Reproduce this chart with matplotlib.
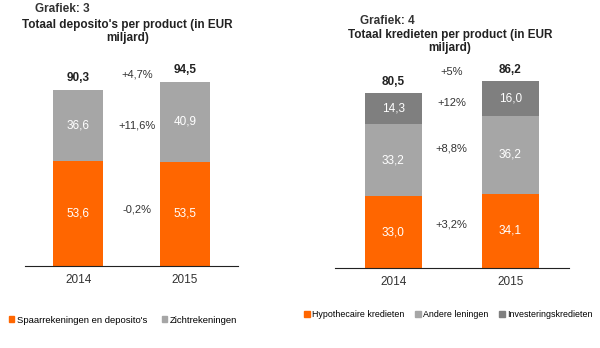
import matplotlib.pyplot as plt
from matplotlib.patches import Patch

plt.rcParams["font.family"] = ["Liberation Sans", "DejaVu Sans"]

years = ["2014", "2015"]

# Grafiek 3 - deposito's
dep_spaar = [53.6, 53.5]
dep_zicht = [36.6, 40.9]
dep_total = [90.3, 94.5]
dep_growth = ["+4,7%", "+11,6%", "-0,2%"]
dep_growth_y = [98, 72, 29]

# Grafiek 4 - kredieten
kr_hypo = [33.0, 34.1]
kr_andere = [33.2, 36.2]
kr_invest = [14.3, 16.0]
kr_total = [80.5, 86.2]
kr_growth = ["+5%", "+12%", "+8,8%", "+3,2%"]
kr_growth_y = [90.5, 76, 55, 20]

orange = "#FF6600"
grey = "#A6A6A6"
dark = "#7F7F7F"
txt = "#333333"

def fmt(v):
    return f"{v:.1f}".replace(".", ",")

fig = plt.figure(figsize=(6, 3.48), dpi=100)

# left chart
ax1 = fig.add_axes([0.042, 0.236, 0.355, 0.56])
x = range(len(years))
ax1.bar(x, dep_spaar, width=0.47, color=orange)
ax1.bar(x, dep_zicht, width=0.47, bottom=dep_spaar, color=grey)
for i in x:
    ax1.text(i, dep_spaar[i] / 2, fmt(dep_spaar[i]), color="white", ha="center", va="center", fontsize=8.5)
    ax1.text(i, dep_spaar[i] + dep_zicht[i] / 2, fmt(dep_zicht[i]), color="white", ha="center", va="center", fontsize=8.5)
    ax1.text(i, dep_total[i] + 3, fmt(dep_total[i]), color="#222222", ha="center", va="bottom", fontsize=8.5, fontweight="bold")
for g, gy in zip(dep_growth, dep_growth_y):
    ax1.text(0.55, gy, g, color=txt, ha="center", va="center", fontsize=8)
ax1.set_xlim(-0.5, 1.5)
ax1.set_ylim(0, 100)

# right chart
ax2 = fig.add_axes([0.558, 0.230, 0.39, 0.592])
ax2.bar(x, kr_hypo, width=0.49, color=orange)
b2 = [kr_hypo[i] + kr_andere[i] for i in x]
ax2.bar(x, kr_andere, width=0.49, bottom=kr_hypo, color=grey)
ax2.bar(x, kr_invest, width=0.49, bottom=b2, color=dark)
for i in x:
    ax2.text(i, kr_hypo[i] / 2, fmt(kr_hypo[i]), color="white", ha="center", va="center", fontsize=8.5)
    ax2.text(i, kr_hypo[i] + kr_andere[i] / 2, fmt(kr_andere[i]), color="white", ha="center", va="center", fontsize=8.5)
    ax2.text(i, b2[i] + kr_invest[i] / 2, fmt(kr_invest[i]), color="white", ha="center", va="center", fontsize=8.5)
    ax2.text(i, kr_total[i] + 2.5, fmt(kr_total[i]), color="#222222", ha="center", va="bottom", fontsize=8.5, fontweight="bold")
for g, gy in zip(kr_growth, kr_growth_y):
    ax2.text(0.5, gy, g, color=txt, ha="center", va="center", fontsize=8)
ax2.set_xlim(-0.5, 1.5)
ax2.set_ylim(0, 95)

for ax in (ax1, ax2):
    for s in ["top", "left", "right"]:
        ax.spines[s].set_visible(False)
    ax.spines["bottom"].set_color("#222222")
    ax.set_yticks([])
    ax.set_xticks(list(x))
    ax.set_xticklabels(years, fontsize=8.5, color=txt)
    ax.tick_params(axis="x", length=0, pad=6)

# titles
fig.text(0.058, 0.975, "Grafiek: 3", fontsize=8.5, fontweight="bold", color="#333333", va="center")
fig.text(0.213, 0.928, "Totaal deposito's per product (in EUR", fontsize=8.5, fontweight="bold", color="#222222", ha="center", va="center")
fig.text(0.213, 0.89, "miljard)", fontsize=8.5, fontweight="bold", color="#222222", ha="center", va="center")
fig.text(0.6, 0.94, "Grafiek: 4", fontsize=8.5, fontweight="bold", color="#333333", va="center")
fig.text(0.75, 0.9, "Totaal kredieten per product (in EUR", fontsize=8.5, fontweight="bold", color="#222222", ha="center", va="center")
fig.text(0.75, 0.862, "miljard)", fontsize=8.5, fontweight="bold", color="#222222", ha="center", va="center")

# legends
h1 = [Patch(color=orange, label="Spaarrekeningen en deposito's"), Patch(color=grey, label="Zichtrekeningen")]
fig.legend(handles=h1, loc="center left", bbox_to_anchor=(0.0, 0.08), ncol=2, frameon=False,
           fontsize=6.8, handlelength=0.6, handleheight=0.6, handletextpad=0.3, columnspacing=1.5)
h2 = [Patch(color=orange, label="Hypothecaire kredieten"), Patch(color=grey, label="Andere leningen"),
      Patch(color=dark, label="Investeringskredieten")]
fig.legend(handles=h2, loc="center left", bbox_to_anchor=(0.494, 0.095), ncol=3, frameon=False,
           fontsize=6.4, handlelength=0.6, handleheight=0.6, handletextpad=0.3, columnspacing=1.2)

fig.savefig("out.png", dpi=100)
